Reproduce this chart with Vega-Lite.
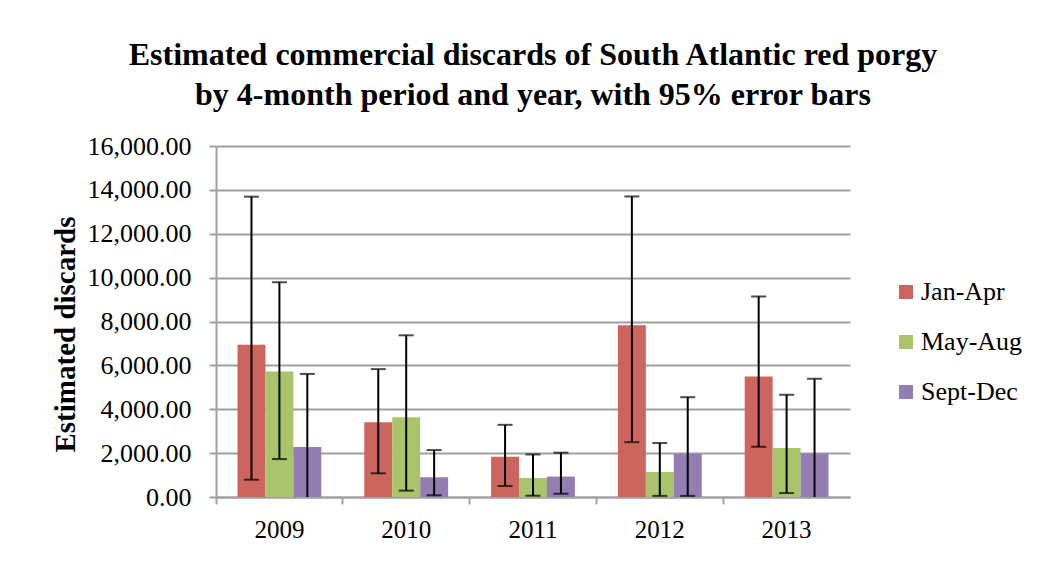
{
  "$schema": "https://vega.github.io/schema/vega-lite/v6.json",
  "autosize": {"type": "none"},
  "width": 634,
  "height": 351,
  "padding": {"left": 216, "top": 146, "right": 196, "bottom": 64},
  "background": "white",
  "title": {
    "text": ["Estimated commercial discards of South Atlantic red porgy", "by 4-month period and year, with 95% error bars"],
    "font": "Liberation Serif",
    "fontSize": 32,
    "fontWeight": "bold",
    "color": "black",
    "lineHeight": 40,
    "offset": 21,
    "anchor": "middle"
  },
  "data": {
    "values": [
      {"year": "2009", "period": "Jan-Apr", "value": 6940, "low": 790, "high": 13690},
      {"year": "2009", "period": "May-Aug", "value": 5720, "low": 1730, "high": 9790},
      {"year": "2009", "period": "Sept-Dec", "value": 2280, "low": -600, "high": 5610},
      {"year": "2010", "period": "Jan-Apr", "value": 3410, "low": 1080, "high": 5830},
      {"year": "2010", "period": "May-Aug", "value": 3640, "low": 290, "high": 7370},
      {"year": "2010", "period": "Sept-Dec", "value": 900, "low": 80, "high": 2140},
      {"year": "2011", "period": "Jan-Apr", "value": 1840, "low": 500, "high": 3290},
      {"year": "2011", "period": "May-Aug", "value": 870, "low": 60, "high": 1940},
      {"year": "2011", "period": "Sept-Dec", "value": 930, "low": 150, "high": 2020},
      {"year": "2012", "period": "Jan-Apr", "value": 7830, "low": 2500, "high": 13700},
      {"year": "2012", "period": "May-Aug", "value": 1140, "low": 50, "high": 2460},
      {"year": "2012", "period": "Sept-Dec", "value": 1970, "low": 50, "high": 4550},
      {"year": "2013", "period": "Jan-Apr", "value": 5490, "low": 2290, "high": 9140},
      {"year": "2013", "period": "May-Aug", "value": 2230, "low": 180, "high": 4660},
      {"year": "2013", "period": "Sept-Dec", "value": 1980, "low": -600, "high": 5390}
    ]
  },
  "encoding": {
    "x": {
      "field": "year",
      "type": "nominal",
      "scale": {"paddingInner": 0, "paddingOuter": 0},
      "axis": {
        "title": null,
        "labelAngle": 0,
        "bandPosition": 0,
        "labelFont": "Liberation Serif",
        "labelFontSize": 25,
        "labelColor": "black",
        "labelPadding": 13,
        "tickSize": 7,
        "tickColor": "#a0a0a0",
        "tickWidth": 2,
        "domainColor": "#a0a0a0",
        "domainWidth": 2,
        "grid": false
      }
    },
    "xOffset": {
      "field": "period",
      "type": "nominal",
      "scale": {"paddingInner": 0, "paddingOuter": 0.77}
    }
  },
  "layer": [
    {
      "mark": {"type": "bar"},
      "encoding": {
        "y": {
          "field": "value",
          "type": "quantitative",
          "scale": {"domain": [0, 16000], "nice": false},
          "axis": {
            "title": "Estimated discards",
            "titleFont": "Liberation Serif",
            "titleFontSize": 29,
            "titleFontWeight": "bold",
            "titleColor": "black",
            "titlePadding": 7,
            "titleY": 188,
            "values": [0, 2000, 4000, 6000, 8000, 10000, 12000, 14000, 16000],
            "format": ",.2f",
            "labelFont": "Liberation Serif",
            "labelFontSize": 26,
            "labelColor": "black",
            "labelPadding": 18,
            "tickSize": 7,
            "tickColor": "#a0a0a0",
            "tickWidth": 2,
            "domainColor": "#a0a0a0",
            "domainWidth": 2,
            "gridColor": "#a0a0a0",
            "gridWidth": 2
          }
        },
        "color": {
          "field": "period",
          "type": "nominal",
          "scale": {"domain": ["Jan-Apr", "May-Aug", "Sept-Dec"], "range": ["#cd655f", "#a9c46b", "#937db2"]},
          "legend": {
            "title": null,
            "orient": "none",
            "legendX": 677,
            "legendY": 133,
            "symbolType": "square",
            "symbolSize": 196,
            "symbolStrokeWidth": 0,
            "labelFont": "Liberation Serif",
            "labelFontSize": 26,
            "labelColor": "black",
            "labelOffset": 2,
            "rowPadding": 24
          }
        }
      }
    },
    {
      "mark": {"type": "rule", "color": "black", "strokeWidth": 2, "clip": true},
      "encoding": {
        "y": {"field": "low", "type": "quantitative"},
        "y2": {"field": "high"}
      }
    },
    {
      "mark": {"type": "tick", "color": "black", "thickness": 2, "size": 15, "clip": true, "orient": "horizontal"},
      "encoding": {
        "y": {"field": "low", "type": "quantitative"}
      }
    },
    {
      "mark": {"type": "tick", "color": "black", "thickness": 2, "size": 15, "clip": true, "orient": "horizontal"},
      "encoding": {
        "y": {"field": "high", "type": "quantitative"}
      }
    }
  ],
  "config": {
    "view": {"stroke": null}
  }
}
